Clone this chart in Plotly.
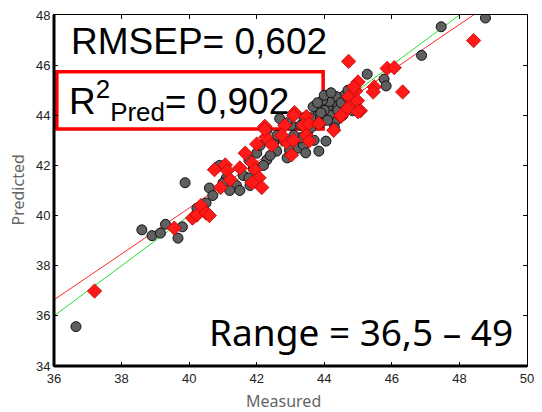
import plotly.graph_objects as go

# Calibration set (grey circles): measured vs predicted
cal_measured = [36.65, 38.6, 38.9, 39.15, 39.3, 39.8, 39.67, 39.88, 40.23, 40.4,
                40.6, 40.9, 41.1, 41.4, 41.6, 41.77, 41.8, 41.77, 42.0, 42.3,
                42.1, 42.59, 42.68, 42.97, 43.03, 43.23, 43.38, 43.67, 43.76, 43.84,
                44.05, 44.25, 44.1, 44.2, 44.3, 44.4, 44.5, 44.6, 44.45, 44.35,
                44.15, 44.0, 43.9, 44.84, 45.27, 45.77, 45.83, 46.88, 47.46, 48.77,
                43.5, 43.3, 43.1, 42.8, 42.5, 42.3, 42.9, 43.6, 43.95, 44.65,
                44.55, 44.7, 43.8, 43.4, 42.2, 41.9, 40.5, 41.2, 43.7, 44.3,
                43.9, 44.0, 44.2, 44.4, 44.1, 43.6, 43.3, 42.9, 43.45, 44.5,
                44.7, 42.6, 42.4, 41.5, 40.7, 41.0]
cal_predicted = [35.57, 39.43, 39.2, 39.3, 39.65, 39.55, 39.1, 41.31, 40.29, 40.35,
                 41.1, 42.0, 41.5, 41.2, 41.6, 41.5, 41.2, 42.22, 42.49, 42.22,
                 42.8, 42.57, 43.87, 42.61, 43.6, 42.69, 42.81, 44.34, 43.95, 42.57,
                 42.97, 44.66, 44.3, 44.0, 43.7, 44.4, 44.7, 44.8, 44.1, 44.75,
                 44.55, 44.2, 43.7, 44.18, 45.64, 45.44, 45.17, 46.39, 47.53, 47.88,
                 43.3, 43.1, 43.2, 43.0, 42.9, 43.4, 43.7, 43.9, 44.6, 44.3,
                 44.0, 45.0, 44.5, 43.9, 42.0, 41.9, 40.5, 41.0, 43.0, 43.5,
                 44.1, 44.8, 44.9, 44.2, 43.8, 43.5, 43.6, 42.3, 42.5, 44.5,
                 44.7, 43.2, 42.4, 41.0, 40.8, 41.3]

# Validation set (red diamonds)
val_measured = [37.2, 39.56, 40.1, 40.23, 40.35, 40.5, 40.75, 41.07, 41.13, 41.22,
                40.93, 41.86, 41.95, 42.07, 41.86, 42.15, 41.66, 42.0, 42.27, 42.45,
                42.24, 43.12, 42.83, 43.47, 43.03, 42.88, 42.74, 43.09, 43.38, 43.55,
                43.47, 43.55, 43.84, 44.28, 44.49, 44.72, 44.93, 45.0, 44.98, 45.07,
                44.72, 44.72, 48.42, 45.86, 46.07, 46.32, 45.48, 45.45, 44.87, 44.69,
                45.0, 44.49, 43.09, 42.24, 40.6, 41.5]
val_predicted = [36.99, 39.5, 39.9, 40.02, 40.4, 40.1, 41.83, 42.02, 41.79, 41.43,
                 41.12, 42.1, 41.83, 41.51, 41.31, 41.12, 42.49, 42.85, 43.12, 42.81,
                 43.56, 44.11, 43.6, 43.95, 42.42, 42.93, 43.2, 43.0, 43.6, 43.67,
                 43.2, 42.97, 43.67, 43.4, 43.95, 44.74, 44.97, 45.33, 44.58, 44.18,
                 44.34, 46.15, 46.98, 45.87, 45.9, 44.93, 45.13, 44.93, 45.13, 44.26,
                 44.14, 43.99, 43.99, 43.44, 40.0, 41.9]

# Fitted regression of the validation set and the ideal 1:1 line
fit_slope = 0.915
fit_intercept = 3.70
line_x = [36, 50]

x_ticks = [36, 38, 40, 42, 44, 46, 48, 50]
y_ticks = [34, 36, 38, 40, 42, 44, 46, 48]

fig = go.Figure()

fig.add_trace(go.Scatter(
    x=line_x, y=line_x, mode="lines",
    line=dict(color="#22e022", width=1), hoverinfo="skip"))
fig.add_trace(go.Scatter(
    x=line_x, y=[fit_slope * v + fit_intercept for v in line_x], mode="lines",
    line=dict(color="#ff2a2a", width=1), hoverinfo="skip"))

fig.add_trace(go.Scatter(
    x=cal_measured, y=cal_predicted, mode="markers",
    marker=dict(symbol="circle", size=10, color="#5f5f5f",
                line=dict(color="#111111", width=1))))
fig.add_trace(go.Scatter(
    x=val_measured, y=val_predicted, mode="markers",
    marker=dict(symbol="diamond", size=11, color="#ff1a1a",
                line=dict(color="#c00000", width=0.8))))

axis_common = dict(
    showgrid=False, zeroline=False, showline=True, linecolor="black",
    linewidth=1, mirror="allticks", ticks="inside", ticklen=4,
    tickcolor="black", tickwidth=1,
    tickfont=dict(family="Liberation Sans, Arial", size=13, color="#222222"))

fig.update_layout(
    width=542, height=412,
    margin=dict(l=54, r=8, t=9, b=46),
    paper_bgcolor="white", plot_bgcolor="white",
    showlegend=False,
    xaxis=dict(range=[36, 50], tickvals=x_ticks, **axis_common),
    yaxis=dict(range=[34, 48], tickvals=y_ticks, **axis_common),
)

# heavier left and bottom axis lines
fig.add_shape(type="line", xref="paper", yref="paper", x0=0, x1=0, y0=0, y1=1,
              line=dict(color="black", width=3), layer="above")
fig.add_shape(type="line", xref="paper", yref="paper", x0=0, x1=1, y0=0, y1=0,
              line=dict(color="black", width=3), layer="above")

# red frame around the prediction R²
fig.add_shape(type="rect", xref="paper", yref="paper",
              x0=0.006, x1=0.569, y0=0.675, y1=0.838,
              line=dict(color="#ff0000", width=3.5), layer="below")

big_font = dict(family="Liberation Sans, Arial", size=37, color="black")

fig.add_annotation(xref="paper", yref="paper", x=0.031, y=0.99,
                   xanchor="left", yanchor="top", showarrow=False,
                   text="RMSEP= 0,602", font=big_font)
fig.add_annotation(xref="paper", yref="paper", x=0.027, y=0.835,
                   xanchor="left", yanchor="top", showarrow=False,
                   text="R<sup>2</sup><sub>Pred</sub>= 0,902", font=big_font)
fig.add_annotation(xref="paper", yref="paper", x=0.975, y=0.02,
                   xanchor="right", yanchor="bottom", showarrow=False,
                   text="Range = 36,5 – 49",
                   font=dict(family="Noto Sans, Liberation Sans", size=37, color="black"))

# axis titles
fig.add_annotation(xref="paper", yref="paper", x=0.485, y=0, yshift=-35,
                   xanchor="center", yanchor="middle", showarrow=False,
                   text="Measured",
                   font=dict(family="Noto Sans, Liberation Sans", size=16, color="#666666"))
fig.add_annotation(xref="paper", yref="paper", x=0, xshift=-37, y=0.5,
                   xanchor="center", yanchor="middle", showarrow=False,
                   text="Predicted", textangle=-90,
                   font=dict(family="Noto Sans, Liberation Sans", size=16, color="#666666"))

fig.write_html("out.html")
